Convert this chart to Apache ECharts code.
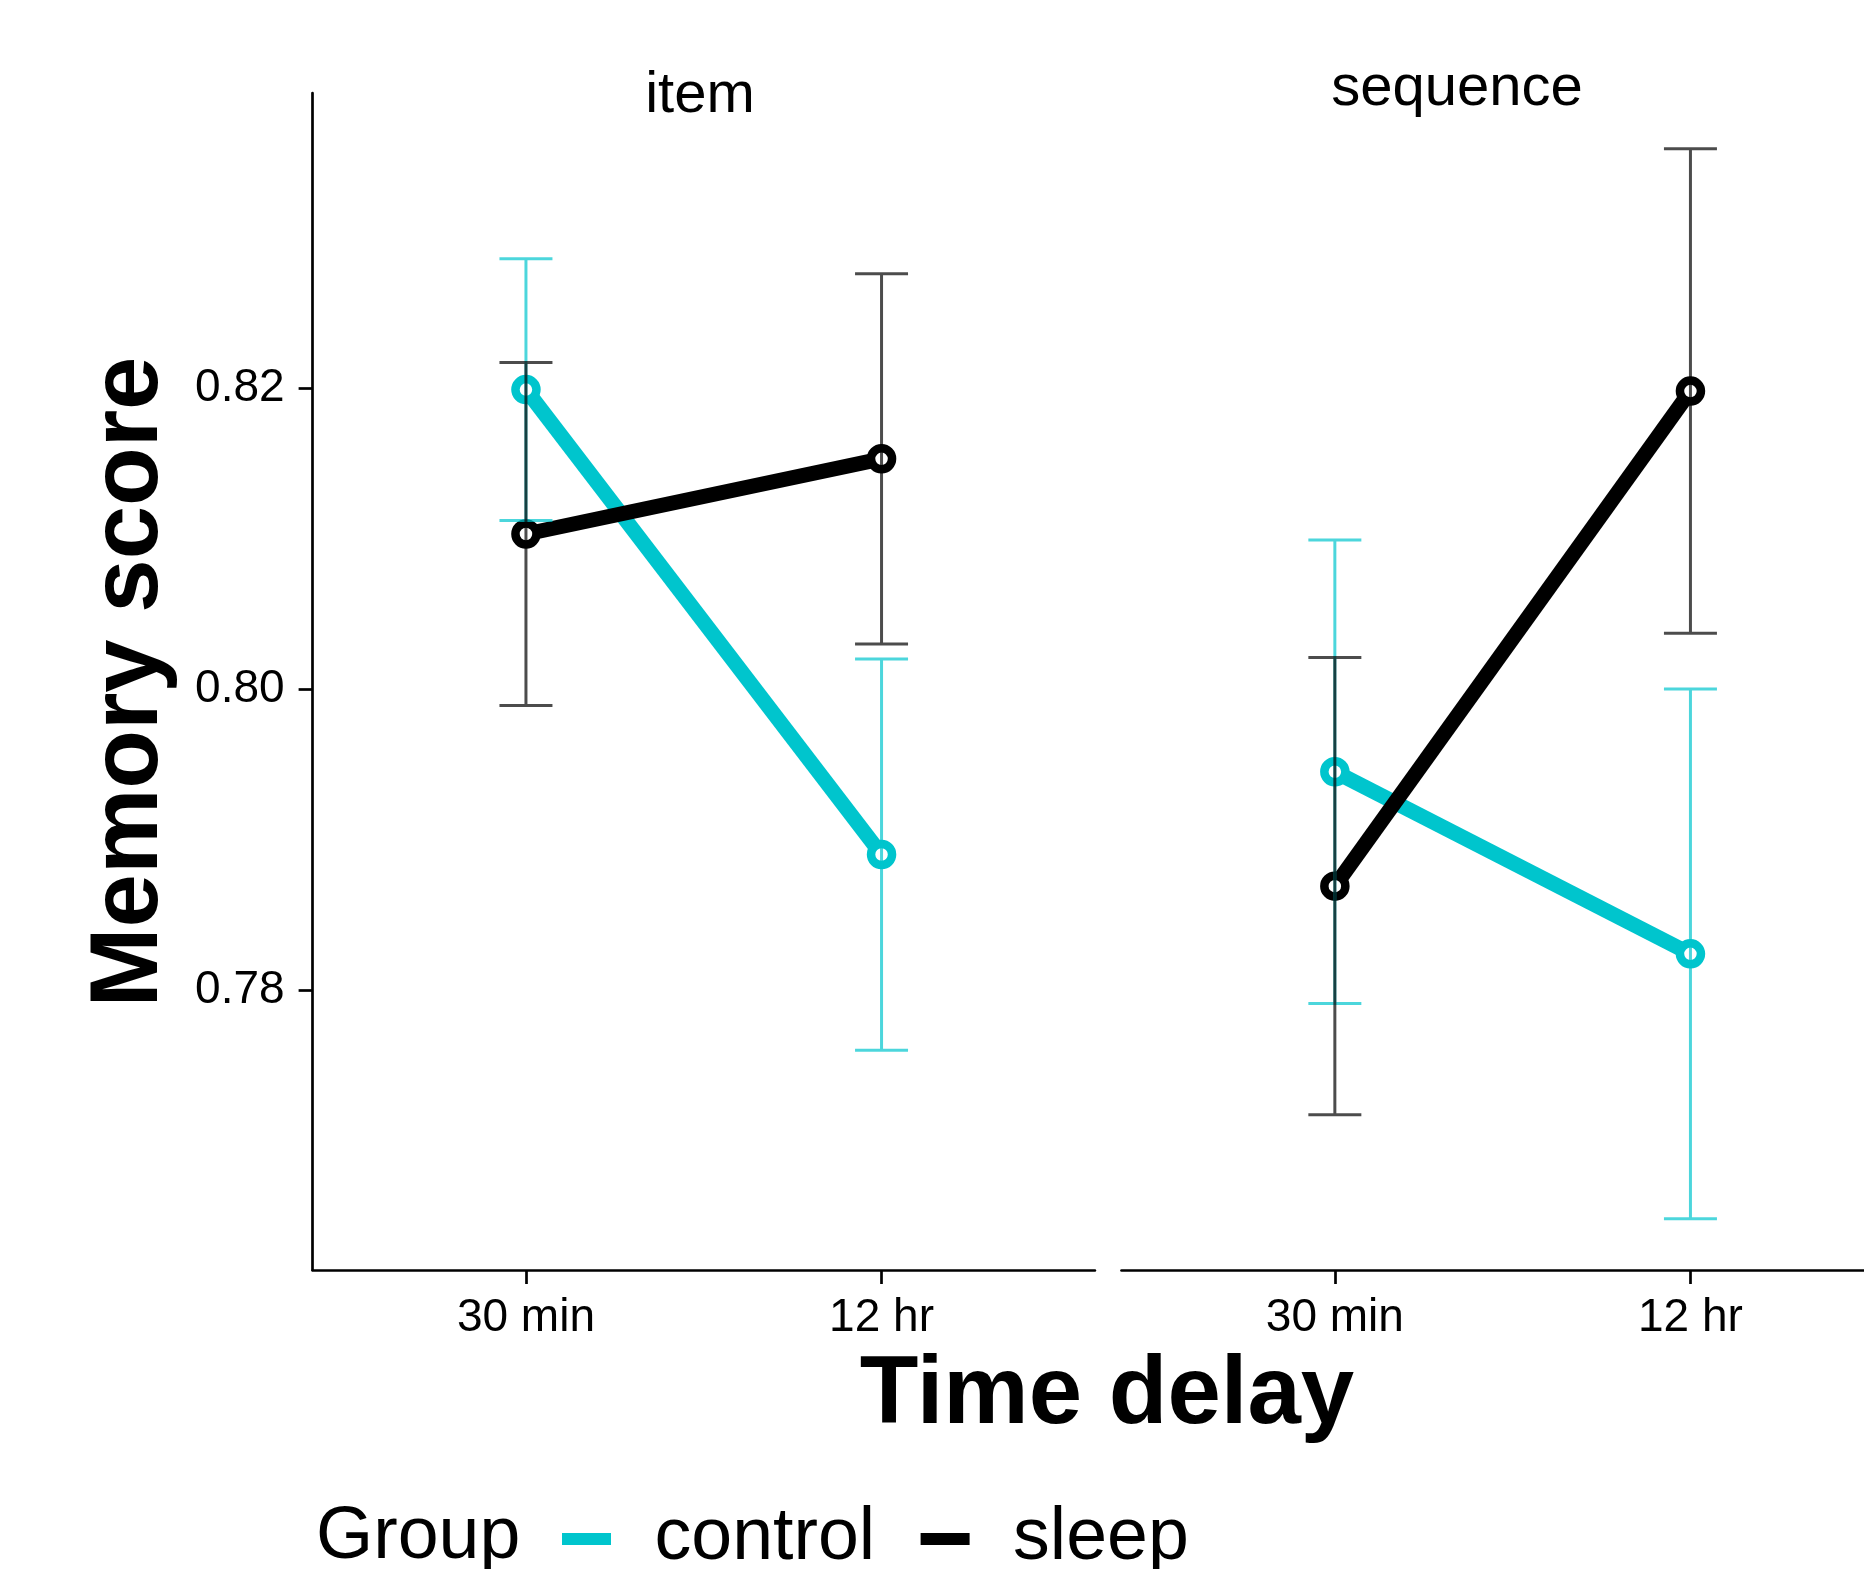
<!DOCTYPE html>
<html>
<head>
<meta charset="utf-8">
<title>Memory score by time delay</title>
<script src="https://cdn.jsdelivr.net/npm/echarts@6/dist/echarts.min.js"></script>
<style>
  html, body { margin: 0; padding: 0; background: #fff; }
  #chart { width: 1864px; height: 1569px; }
</style>
</head>
<body>
<div id="chart"></div>
<script>
var facets = ["item", "sequence"];
var delays = ["30 min", "12 hr"];
var groups = ["control", "sleep"];
var yTicks = [0.78, 0.80, 0.82];

// group means, [30 min, 12 hr]
var controlItem = [0.8199, 0.7890];
var sleepItem = [0.8103, 0.8153];
var controlSeq = [0.7945, 0.7824];
var sleepSeq = [0.7869, 0.8198];

// standard errors for the error bars
var controlItemSe = [0.0087, 0.0130];
var sleepItemSe = [0.0114, 0.0123];
var controlSeqSe = [0.0154, 0.0176];
var sleepSeqSe = [0.0152, 0.0161];

var CYAN = "#00C5CD";
var FONT = "Liberation Sans, Arial, Helvetica, sans-serif";

function points(means) {
  return means.map(function (m, i) { return [i + 1, m]; });
}

function bars(means, se) {
  return means.map(function (m, i) { return [i + 1, m - se[i], m + se[i]]; });
}

function renderErrorBar(params, api) {
  var x = api.value(0);
  var lo = api.coord([x, api.value(1)]);
  var hi = api.coord([x, api.value(2)]);
  var h = 26.5;
  var d = "M" + (lo[0] - h) + " " + lo[1] + "L" + (lo[0] + h) + " " + lo[1] +
          "M" + lo[0] + " " + lo[1] + "L" + hi[0] + " " + hi[1] +
          "M" + (hi[0] - h) + " " + hi[1] + "L" + (hi[0] + h) + " " + hi[1];
  return {
    type: "path",
    shape: { pathData: d },
    style: { stroke: api.visual("color"), lineWidth: 3, fill: null }
  };
}

function lineSeries(name, idx, means, color) {
  return {
    name: name,
    type: "line",
    xAxisIndex: idx,
    yAxisIndex: idx,
    data: points(means),
    symbol: "circle",
    symbolSize: 21,
    lineStyle: { color: color, width: 15 },
    // open ring: white fill, thick coloured border
    itemStyle: { color: "#fff", borderColor: color, borderWidth: 8.5 },
    emphasis: { disabled: true },
    animation: false,
    z: 2
  };
}

function barSeries(name, idx, means, se, color) {
  return {
    name: name,
    type: "custom",
    xAxisIndex: idx,
    yAxisIndex: idx,
    data: bars(means, se),
    renderItem: renderErrorBar,
    itemStyle: { color: color },
    animation: false,
    z: 3
  };
}

function xAxis(idx) {
  return {
    type: "value",
    gridIndex: idx,
    min: 0.4,
    max: 2.6,
    splitLine: { show: false },
    axisLine: { show: true, lineStyle: { color: "#000", width: 2.7 } },
    axisTick: { show: true, customValues: [1, 2], length: 14, lineStyle: { color: "#000", width: 2.7 } },
    axisLabel: {
      customValues: [1, 2],
      formatter: function (v) { return delays[Math.round(v) - 1]; },
      color: "#000", fontSize: 46, fontFamily: FONT, margin: 25.5
    }
  };
}

function yAxis(idx, visible) {
  return {
    type: "value",
    gridIndex: idx,
    min: 0.76139,
    max: 0.83961,
    show: visible,
    splitLine: { show: false },
    axisLine: { show: true, lineStyle: { color: "#000", width: 2.7 } },
    axisTick: { show: true, customValues: yTicks, length: 14, lineStyle: { color: "#000", width: 2.7 } },
    axisLabel: {
      customValues: yTicks,
      formatter: function (v) { return v.toFixed(2); },
      color: "#000", fontSize: 46, fontFamily: FONT, margin: 28
    }
  };
}

var chart = echarts.init(document.getElementById("chart"), null, { renderer: "canvas" });

var option = {
  backgroundColor: "#fff",
  animation: false,
  grid: [
    { left: 312.6, top: 93, width: 782.3, height: 1177, outerBoundsMode: "none", containLabel: false },
    { left: 1121.5, top: 93, width: 782.3, height: 1177, outerBoundsMode: "none", containLabel: false }
  ],
  xAxis: [xAxis(0), xAxis(1)],
  yAxis: [yAxis(0, true), yAxis(1, false)],
  legend: {
    data: [
      { name: groups[0], itemStyle: { color: CYAN, borderWidth: 0 } },
      { name: groups[1], itemStyle: { color: "#000", borderWidth: 0 } }
    ],
    icon: "rect",
    left: 562,
    top: 1502,
    padding: 0,
    itemWidth: 49,
    itemHeight: 12,
    itemGap: 45.5,
    selectedMode: false,
    textStyle: { color: "#000", fontSize: 73.5, fontFamily: FONT, padding: [0, 0, 0, 38.5] }
  },
  graphic: [
    { type: "text", x: 131, y: 682, rotation: Math.PI / 2,
      style: { text: "Memory score", fontSize: 96, fontWeight: "bold", fontFamily: FONT, fill: "#000", align: "center", verticalAlign: "middle" } },
    { type: "text", x: 1107, y: 1397,
      style: { text: "Time delay", fontSize: 96, fontWeight: "bold", fontFamily: FONT, fill: "#000", align: "center", verticalAlign: "middle" } },
    { type: "text", x: 700, y: 95.5,
      style: { text: facets[0], fontSize: 58, fontFamily: FONT, fill: "#000", align: "center", verticalAlign: "middle" } },
    { type: "text", x: 1457, y: 89,
      style: { text: facets[1], fontSize: 58, fontFamily: FONT, fill: "#000", align: "center", verticalAlign: "middle" } },
    { type: "text", x: 316, y: 1538,
      style: { text: "Group", fontSize: 73.5, fontFamily: FONT, fill: "#000", align: "left", verticalAlign: "middle" } }
  ],
  series: [
    lineSeries(groups[0], 0, controlItem, CYAN),
    lineSeries(groups[0], 1, controlSeq, CYAN),
    lineSeries(groups[1], 0, sleepItem, "#000"),
    lineSeries(groups[1], 1, sleepSeq, "#000"),
    barSeries(groups[0], 0, controlItem, controlItemSe, "rgba(0,197,205,0.7)"),
    barSeries(groups[0], 1, controlSeq, controlSeqSe, "rgba(0,197,205,0.7)"),
    barSeries(groups[1], 0, sleepItem, sleepItemSe, "rgba(0,0,0,0.7)"),
    barSeries(groups[1], 1, sleepSeq, sleepSeqSe, "rgba(0,0,0,0.7)")
  ]
};

chart.setOption(option);
</script>
</body>
</html>
